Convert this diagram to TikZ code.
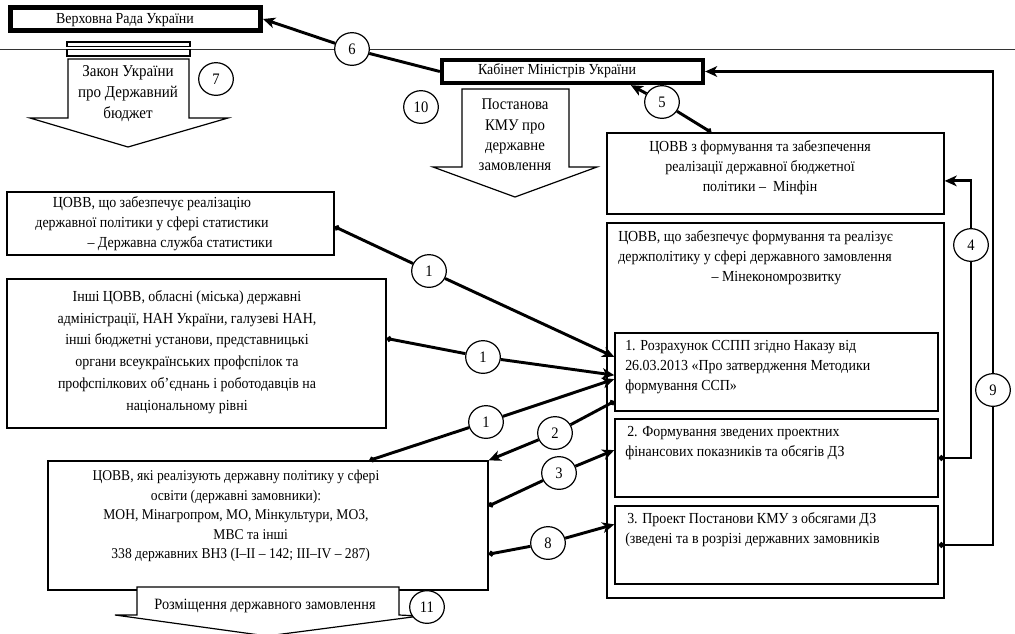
\documentclass[tikz,border=0pt]{standalone}
\usepackage{fontspec}
\setmainfont{Liberation Serif}[FakeStretch=0.91]
\usetikzlibrary{arrows.meta,calc,fit,shapes.geometric}
\begin{document}
\begin{tikzpicture}[x=0.75pt,y=-0.75pt,
  box/.style={draw, line width=1pt, inner sep=0pt, fill=white},
  thickbox/.style={draw, inner sep=0pt, fill=white},
  txt/.style={inner sep=0pt, font=\fontsize{11.5pt}{15pt}\selectfont, align=center},
  ltxt/.style={inner sep=0pt, font=\fontsize{11.5pt}{15pt}\selectfont, align=left},
  num/.style={draw, ellipse, line width=0.9pt, fill=white, minimum width=26pt, minimum height=24.5pt, inner sep=0pt, font=\fontsize{12pt}{12pt}\selectfont},
  conn/.style={line width=2.2pt},
  arr/.style={conn, -{Stealth[length=9pt,width=8pt,inset=2.5pt]}},
  dot/.style={conn, {Circle[length=4pt]}-},
  blockarrow/.style={draw, line width=0.9pt, fill=white}
]
\fill[white] (0,0) rectangle (1015,633);
\useasboundingbox (0,0) rectangle (1015,633);

% separating line
\draw[line width=1pt, black!80] (0,49.5) -- (1015,49.5);

% boxes
\node[thickbox, line width=3.75pt, fit={(10.5,7.5)(260.5,30.5)}] (rada) {};
\node[txt] (radat) at (125,20) {Верховна Рада України};

\node[thickbox, line width=3.2pt, fit={(442,60)(703,83)}] (kab) {};
\node[txt] (kabt) at (557,71) {Кабінет Міністрів України};

% double bars and block arrow 7
\draw[line width=0.9pt, fill=white] (67,42) rectangle (190,46.5);
\draw[line width=0.9pt, fill=white] (67,49.5) rectangle (190,56);
\draw[blockarrow] (68,59) -- (189,59) -- (189,118) -- (228,118) -- (128,147) -- (30,118) -- (68,118) -- cycle;
\node[txt, font=\fontsize{12.4pt}{15.75pt}\selectfont] (lawt) at (128,94) {Закон України\\про Державний\\бюджет};

% block arrow 10
\draw[blockarrow] (462,89) -- (569,89) -- (569,167) -- (597,167) -- (515,197) -- (433,167) -- (462,167) -- cycle;
\node[txt, font=\fontsize{12.2pt}{15.2pt}\selectfont] (postt) at (515,135) {Постанова\\КМУ про\\державне\\замовлення};

\node[box, fit={(607,133)(944,214)}] (minfin) {};
\node[txt] (minfint) at (760,168) {ЦОВВ з формування та забезпечення\\реалізації державної бюджетної\\політики –\ \ Мінфін};

\node[box, fit={(607,223)(944,598)}] (mineco) {};
\node[ltxt, anchor=west] (minecot) at (618,258) {ЦОВВ, що забезпечує формування та реалізує\\держполітику у сфері державного замовлення\\\hspace*{70pt}– Мінекономрозвитку};

\node[box, fit={(615,333)(938,411)}] (b1) {};
\node[ltxt, anchor=west] (b1t) at (625,367) {1. Розрахунок ССПП згідно Наказу від\\26.03.2013 «Про затвердження Методики\\формування ССП»};

\node[box, fit={(615,419)(938,497)}] (b2) {};
\node[ltxt, anchor=west] (b2t) at (625,443) {\hspace*{1.5pt}2. Формування зведених проектних\\фінансових показників та обсягів ДЗ};

\node[box, fit={(615,506)(938,584)}] (b3) {};
\node[ltxt, anchor=west] (b3t) at (625,530) {\hspace*{1.5pt}3. Проект Постанови КМУ з обсягами ДЗ\\(зведені та в розрізі державних замовників};

\node[box, fit={(7,192)(334,255)}] (stat) {};
\node[txt] (statt) at (152,224) {ЦОВВ, що забезпечує реалізацію\\державної політики у сфері статистики\\\hspace*{42pt}– Державна служба статистики};

\node[box, fit={(7,279)(386,428)}] (inshi) {};
\node[txt, font=\fontsize{11.5pt}{16.3pt}\selectfont] (inshit) at (187,352) {Інші ЦОВВ, обласні (міська) державні\\адміністрації, НАН України, галузеві НАН,\\інші бюджетні установи, представницькі\\органи всеукраїнських профспілок та\\профспілкових об’єднань і роботодавців на\\національному рівні};

\node[box, fit={(48,461)(488,590)}] (osv) {};
\node[txt, font=\fontsize{11.2pt}{14.6pt}\selectfont] (osvt) at (236,516) {ЦОВВ, які реалізують державну політику у сфері\\освіти (державні замовники):\\МОН, Мінагропром, МО, Мінкультури, МОЗ,\hspace*{42pt}\\\hspace*{22pt}МВС та інші\\\hspace*{7pt}338 державних ВНЗ (І–ІІ – 142; ІІІ–IV – 287)};

% block arrow 11
\draw[blockarrow] (137,587) -- (399,587) -- (399,615) -- (420,616) -- (267,636) -- (115,615) -- (137,615) -- cycle;
\node[txt, font=\fontsize{11.8pt}{15pt}\selectfont] (placet) at (265,606) {Розміщення державного замовлення};

% numbered circles
\node[num] (c6) at (352,49) {6};
\node[num] (c7) at (216,79) {7};
\node[num] (c10) at (421,107) {10};
\node[num] (c5) at (662,102) {5};
\node[num] (c4) at (971,245) {4};
\node[num] (c9) at (993,390) {9};
\node[num] (c1a) at (429,271) {1};
\node[num] (c1b) at (483,357) {1};
\node[num] (c1c) at (486,422) {1};
\node[num] (c2) at (555,433) {2};
\node[num] (c3) at (559,473) {3};
\node[num] (c8) at (548,543) {8};
\node[num] (c11) at (427,607) {11};

% connectors
\draw[conn] (kab.west) -- (c6);
\draw[arr] (c6) -- (rada.east);

\draw[dot] ($(minfin.north west)!0.31!(minfin.north east)$) -- (c5);
\draw[arr] (c5) -- ($(kab.south west)!0.72!(kab.south east)$);

\draw[dot] ($(stat.north east)!0.55!(stat.south east)$) -- (c1a);
\draw[arr] (c1a) -- ($(b1.north west)!0.31!(b1.south west)$);

\draw[dot] ($(inshi.north east)!0.40!(inshi.south east)$) -- (c1b);
\draw[arr] (c1b) -- ($(b1.north west)!0.54!(b1.south west)$);

\draw[dot] ($(osv.north west)!0.73!(osv.north east)$) -- (c1c);
\draw[arr] (c1c) -- ($(b1.north west)!0.59!(b1.south west)$);

\draw[dot] ($(b1.north west)!0.87!(b1.south west)$) -- (c2);
\draw[arr] (c2) -- (osv.north east);

\draw[dot] ($(osv.north east)!0.35!(osv.south east)$) -- (c3);
\draw[arr] (c3) -- ($(b2.north west)!0.40!(b2.south west)$);

\draw[dot] ($(osv.north east)!0.72!(osv.south east)$) -- (c8);
\draw[arr] (c8) -- ($(b3.north west)!0.24!(b3.south west)$);

\draw[dot] (b2.east) -| (c4);
\draw[arr] (c4) |- ($(minfin.north east)!0.59!(minfin.south east)$);

\draw[dot] (b3.east) -| (c9);
\draw[arr] (c9) |- (kab.east);
\end{tikzpicture}
\end{document}
